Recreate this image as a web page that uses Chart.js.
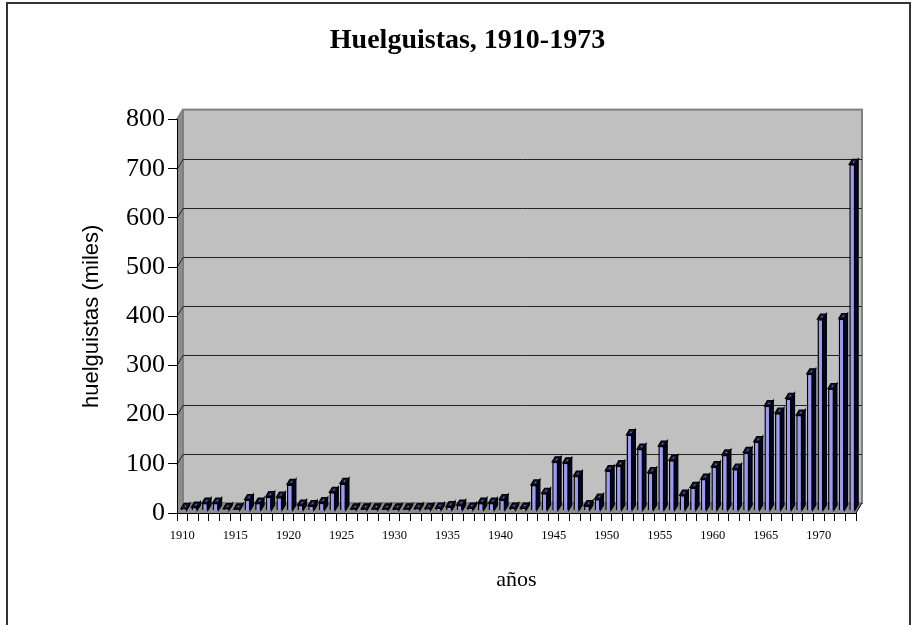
<!DOCTYPE html>
<html><head><meta charset="utf-8">
<script src="https://cdn.jsdelivr.net/npm/chart.js@4/dist/chart.umd.min.js"></script>
<style>html,body{margin:0;padding:0;background:#fff;}canvas{display:block;}</style>
</head><body>
<canvas id="c" width="913" height="625"></canvas>
<script>
// ---- data ----
const years = ['1910','1911','1912','1913','1914','1915','1916','1917','1918','1919',
  '1920','1921','1922','1923','1924','1925','1926','1927','1928','1929',
  '1930','1931','1932','1933','1934','1935','1936','1937','1938','1939',
  '1940','1941','1942','1943','1944','1945','1946','1947','1948','1949',
  '1950','1951','1952','1953','1954','1955','1956','1957','1958','1959',
  '1960','1961','1962','1963','1964','1965','1966','1967','1968','1969',
  '1970','1971','1972','1973'];
const strikers = [4,7,15,15,4,3,22,15,28,27,
  53,11,10,16,37,55,3,3,3,3,
  3,3,4,4,5,8,11,5,15,15,
  22,5,5,52,35,99,97,70,10,23,
  81,91,154,125,77,131,102,31,47,64,
  89,113,84,118,140,213,198,228,194,278,
  389,248,390,704];
const xTickLabels = ['1910','1915','1920','1925','1930','1935','1940','1945','1950','1955','1960','1965','1970'];
const yTickValues = [0,100,200,300,400,500,600,700,800];
const chartTitle = 'Huelguistas, 1910-1973';
const yAxisTitle = 'huelguistas (miles)';
const xAxisTitle = 'años';

// ---- 3D look ----
const DX = 6, DY = -10;      // wall depth
const BF = {x: 1.5, y: -2.5}; // bar front offset
const BD = {x: 3, y: -5};     // bar depth

function poly(ctx, pts, fill, stroke, lw) {
  ctx.beginPath();
  ctx.moveTo(pts[0][0], pts[0][1]);
  for (let i = 1; i < pts.length; i++) ctx.lineTo(pts[i][0], pts[i][1]);
  ctx.closePath();
  if (fill) { ctx.fillStyle = fill; ctx.fill(); }
  if (stroke) { ctx.strokeStyle = stroke; ctx.lineWidth = lw || 1; ctx.stroke(); }
}

const threeD = {
  id: 'threeD',
  beforeDraw(chart) {
    const ctx = chart.ctx, a = chart.chartArea;
    ctx.save();
    ctx.fillStyle = '#fff';
    ctx.fillRect(0, 0, chart.width, chart.height);
    ctx.strokeStyle = '#333';
    ctx.lineWidth = 2;
    ctx.strokeRect(7, 3, 903, 700);
    // left wall
    poly(ctx, [[a.left, a.top], [a.left + DX, a.top + DY], [a.left + DX, a.bottom + DY], [a.left, a.bottom]], '#8c8c8c');
    // floor
    poly(ctx, [[a.left, a.bottom], [a.left + DX, a.bottom + DY], [a.right + DX, a.bottom + DY], [a.right, a.bottom]], '#8c8c8c');
    // back wall
    ctx.fillStyle = '#c0c0c0';
    ctx.fillRect(a.left + DX, a.top + DY, a.right - a.left, a.bottom - a.top);
    ctx.strokeStyle = '#808080';
    ctx.lineWidth = 2;
    ctx.strokeRect(a.left + DX, a.top + DY, a.right - a.left, a.bottom - a.top);
    ctx.beginPath(); ctx.moveTo(a.left, a.top); ctx.lineTo(a.left + DX, a.top + DY); ctx.stroke();
    ctx.strokeStyle = '#000'; ctx.lineWidth = 1;
    ctx.beginPath(); ctx.moveTo(a.right, a.bottom); ctx.lineTo(a.right + DX, a.bottom + DY); ctx.stroke();
    // gridlines on back wall
    const ys = chart.scales.y;
    ctx.strokeStyle = '#222';
    ctx.lineWidth = 1;
    yTickValues.forEach(v => {
      if (v === 0 || v === 800) return;
      const y = Math.round(ys.getPixelForValue(v)) + 0.5;
      ctx.beginPath();
      ctx.moveTo(a.left, y);
      ctx.lineTo(a.left + DX, y + DY);
      ctx.lineTo(a.right + DX, y + DY);
      ctx.stroke();
    });
    ctx.restore();
  },
  beforeDatasetsDraw(chart) {
    chart.ctx.save();
    chart.ctx.translate(BF.x, BF.y);
  },
  afterDatasetsDraw(chart) {
    const ctx = chart.ctx;
    const meta = chart.getDatasetMeta(0);
    meta.data.forEach(bar => {
      const p = bar.getProps(['x', 'y', 'base', 'width'], true);
      const l = p.x - p.width / 2, r = p.x + p.width / 2;
      poly(ctx, [[r, p.y], [r + BD.x, p.y + BD.y], [r + BD.x, p.base + BD.y], [r, p.base]], '#05052a', '#000', 1.3);
      poly(ctx, [[l, p.y], [l + BD.x, p.y + BD.y], [r + BD.x, p.y + BD.y], [r, p.y]], '#1a1a40', '#000', 1.3);
      ctx.fillStyle = '#8080d0';
      ctx.fillRect(p.x + BD.x / 2 - 0.5, p.y + BD.y / 2 - 0.5, 1.2, 1.2);
    });
    ctx.restore();
  }
};

new Chart(document.getElementById('c'), {
  type: 'bar',
  data: {
    labels: years,
    datasets: [{
      label: 'huelguistas',
      data: strikers,
      backgroundColor: '#9999ff',
      borderColor: '#000',
      borderWidth: 1.5,
      barPercentage: 0.55,
      categoryPercentage: 1.0
    }]
  },
  options: {
    responsive: false,
    devicePixelRatio: 1,
    animation: false,
    layout: { padding: { left: 79, right: 57, top: 0, bottom: 32 } },
    plugins: {
      legend: { display: false },
      tooltip: { enabled: false },
      title: {
        display: true,
        text: chartTitle,
        color: '#000',
        font: { family: 'Liberation Serif', size: 28, weight: 'bold' },
        padding: { top: 24, bottom: 62 }
      }
    },
    scales: {
      x: {
        type: 'category',
        offset: true,
        grid: { display: true, offset: true, drawOnChartArea: false, drawTicks: true, tickLength: 8, color: '#000' },
        border: { display: true, color: '#000', width: 1 },
        ticks: {
          autoSkip: false, maxRotation: 0, minRotation: 0, color: '#000', padding: 7,
          font: { family: 'Liberation Serif', size: 12.5 },
          callback: function(v) { const l = this.getLabelForValue(v); return xTickLabels.includes(l) ? l : ''; }
        },
        title: { display: true, text: xAxisTitle, color: '#000', padding: 0, font: { family: 'Liberation Serif', size: 22 } },
        afterFit(s) { s.height = 80; }
      },
      y: {
        min: 0, max: 800,
        grid: { display: true, drawOnChartArea: false, drawTicks: true, tickLength: 9, color: '#000' },
        border: { display: true, color: '#000', width: 1 },
        ticks: {
          stepSize: 100, color: '#000', padding: 3,
          font: { family: 'Liberation Serif', size: 26 }
        },
        title: { display: true, text: yAxisTitle, color: '#000', padding: 0, font: { family: 'Liberation Sans', size: 22 } },
        afterFit(s) { s.width = 98; }
      }
    }
  },
  plugins: [threeD]
});
</script>
</body></html>
